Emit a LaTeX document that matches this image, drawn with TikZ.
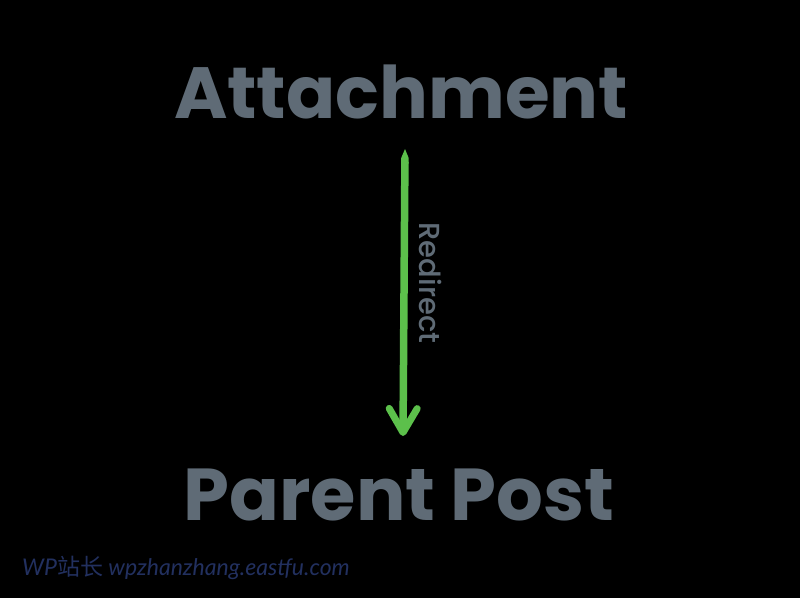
\documentclass[tikz,border=0pt]{standalone}
\usepackage{fontspec}
\setmainfont{Poppins}
\newfontfamily\poppinsmed{Poppins Medium}
\newfontfamily\cjk{Noto Sans CJK SC}
\newfontfamily\wmfont{Lato}
\usetikzlibrary{arrows.meta}
\definecolor{titlegray}{HTML}{5F6B76}
\definecolor{arrowgreen}{HTML}{5CC04B}
\definecolor{wmblue}{HTML}{22305F}
\tikzset{
  title/.style={text=titlegray, font=\fontsize{72.5}{72.5}\selectfont\bfseries, inner sep=0pt, anchor=base},
  lbl/.style={text=titlegray, font=\fontsize{29}{29}\selectfont\poppinsmed, inner sep=0pt, rotate=-90},
  link/.style={draw=arrowgreen, line width=7.5pt,
    {Triangle Cap[length=9pt]}-{Straight Barb[length=24pt,width=28pt,line width=7pt,round]}},
  wm/.style={text=wmblue, inner sep=0pt, anchor=base west, font=\fontsize{23}{23}\selectfont\itshape\wmfont}
}
\begin{document}
\begin{tikzpicture}[x=1pt,y=-1pt]
\fill[black] (0,0) rectangle (800,598);
\useasboundingbox (0,0) rectangle (800,598);
\node[title] (att) at (401,118) {Attachment};
\node[title, font=\fontsize{73.5}{73.5}\selectfont\bfseries] (pp) at (399,520) {Parent Post};
\coordinate (s) at (405,149);
\coordinate (e) at (403,436);
\draw[link] (s) -- (e);
\node[lbl] (r) at (431,283) {Redirect};
\node[wm] (w) at (22,575) {WP{\cjk 站长} wpzhanzhang.eastfu.com};
\end{tikzpicture}
\end{document}
